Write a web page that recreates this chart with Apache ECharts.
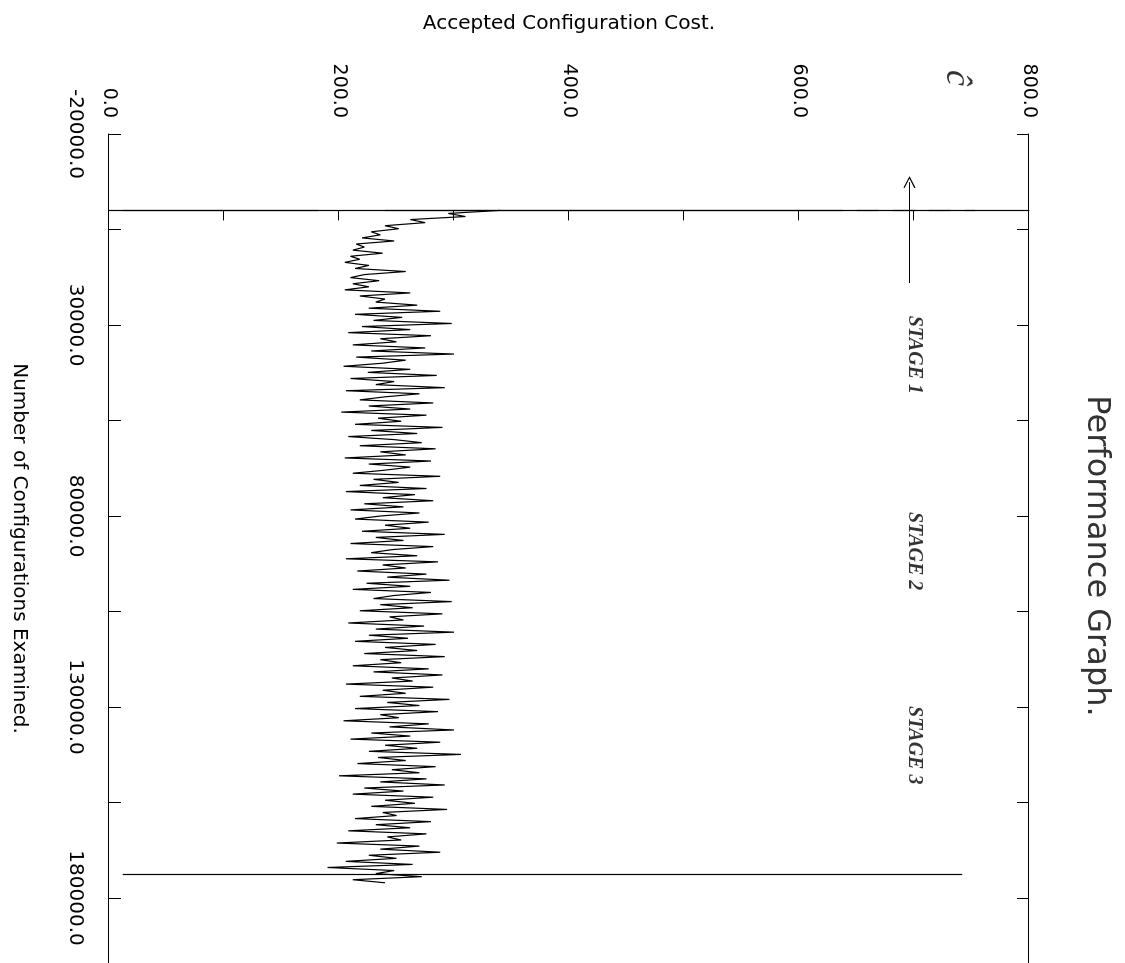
<!DOCTYPE html>
<html>
<head>
<meta charset="utf-8">
<title>Performance Graph.</title>
<script src="https://cdn.jsdelivr.net/npm/echarts@6/dist/echarts.min.js"></script>
<style>
  html, body { margin: 0; padding: 0; background: #fff; overflow: hidden; }
  /* the plot is printed sideways: draw it upright, then turn it a quarter clockwise */
  #chart {
    position: absolute; left: 0; top: 0;
    width: 963px; height: 1125px;
    transform-origin: 0 0;
    transform: translate(1125px, 0) rotate(90deg);
  }
</style>
</head>
<body>
<div id="chart"></div>
<script>
// axes
const configTicks = [-20000, 5000, 30000, 55000, 80000, 105000, 130000, 155000, 180000];
const configLabels = [-20000, 30000, 80000, 130000, 180000];
const costTicks = [0, 100, 200, 300, 400, 500, 600, 700, 800];
const costLabels = [0, 200, 400, 600, 800];

// accepted cost, sampled every 800 configurations from 0
const sampleStart = 0;
const sampleStep = 800;
const costValues = [
  // 0 .. 20000
  340, 295, 310, 262, 275, 240, 252, 228, 236, 220, 248, 215, 222, 212, 238, 210, 218, 205, 226, 214,
  258, 222, 210, 235, 212, 226,
  // 20800 .. 40000
  205, 262, 218, 240, 232, 268, 226, 288, 214, 255, 230, 298, 220, 262, 208, 280, 236, 250, 212, 275,
  228, 300, 215, 258, 238,
  // 40800 .. 80000
  204, 262, 225, 285, 210, 248, 232, 292, 206, 270, 240, 218, 282, 226, 262, 202, 276, 234, 254, 214,
  290, 228, 268, 208, 248, 272, 218, 284, 236, 258, 205, 280, 226, 262, 240, 212, 288, 230, 252, 218,
  276, 206, 266, 238, 282, 222, 256, 210, 270, 236,
  // 80800 .. 120000
  214, 278, 240, 262, 220, 292, 232, 256, 210, 282, 246, 228, 268, 206, 286, 238, 258, 216, 276, 242,
  296, 224, 262, 212, 280, 248, 230, 298, 236, 264, 218, 290, 244, 256, 208, 274, 232, 300, 226, 260,
  214, 284, 240, 268, 222, 292, 236, 254, 212, 278,
  // 120800 .. 160000
  230, 290, 246, 264, 206, 282, 238, 258, 218, 296, 242, 270, 214, 286, 236, 252, 204, 278, 244, 300,
  228, 262, 210, 288, 240, 268, 226, 306, 234, 258, 216, 284, 246, 270, 200, 276, 236, 292, 222, 256,
  212, 282, 240, 266, 228, 294, 238, 250, 214, 280,
  // 160800 .. 176000
  232, 262, 208, 276, 242, 254, 198, 270, 236, 288, 226, 250, 206, 264, 190, 248, 232, 272, 212, 240,
];

// stage boundary lines (configurations) and their cost extent
const markerConfigs = [0, 173700];
const markerLow = 12;
const markerGap = [182, 240];
const markerHigh = [753, 742];
const markerDashFrom = 619;

// stage annotations
const stageNames = ["STAGE 1", "STAGE 2", "STAGE 3"];
const stageConfigs = [37800, 89200, 140000];
const stageCost = 700;
const arrowFrom = [19000, 696];
const arrowTo = [-7400, 696];
const cHatPoint = [-20000, 737];

const lineColor = "#000";
const openArrow = "path://M0,12 L6,0 L12,12 L10.8,12.6 L6,2.6 L1.2,12.6 Z";

const tracePoints = costValues.map((v, i) => [sampleStart + i * sampleStep, v]);

const chartInstance = echarts.init(document.getElementById("chart"));
chartInstance.setOption({
  animation: false,
  backgroundColor: "#fff",
  title: {
    text: "Performance Graph.",
    left: 551,
    textAlign: "center",
    top: 8,
    textStyle: {
      color: "#333",
      fontFamily: "DejaVu Sans",
      fontSize: 32,
      fontWeight: "normal",
    },
  },
  grid: {
    left: 134,
    right: 0,
    top: 96,
    bottom: 109,
  },
  xAxis: [
    {
      type: "value",
      position: "bottom",
      min: -20000,
      max: 197000,
      name: "Number of Configurations Examined.",
      nameLocation: "middle",
      nameGap: 80,
      nameTextStyle: { color: "#000", fontFamily: "DejaVu Sans", fontSize: 20 },
      axisLine: { show: true, lineStyle: { color: lineColor, width: 1.2 } },
      axisTick: { show: true, inside: true, length: 12, customValues: configTicks, lineStyle: { color: lineColor } },
      axisLabel: {
        customValues: configLabels,
        margin: 24,
        color: "#000",
        fontFamily: "DejaVu Sans",
        fontSize: 20,
        formatter: (v) => Number(v).toFixed(1),
      },
      splitLine: { show: false },
    },
    {
      type: "value",
      position: "top",
      min: -20000,
      max: 197000,
      axisLine: { show: true, lineStyle: { color: lineColor, width: 1.2 } },
      axisTick: { show: true, inside: true, length: 12, customValues: configTicks, lineStyle: { color: lineColor } },
      axisLabel: { show: false },
      splitLine: { show: false },
    },
  ],
  yAxis: {
    type: "value",
    min: 0,
    max: 800,
    name: "Accepted Configuration Cost.",
    nameLocation: "middle",
    nameGap: 100,
    nameTextStyle: { color: "#000", fontFamily: "DejaVu Sans", fontSize: 20 },
    axisLine: { show: true, lineStyle: { color: lineColor, width: 1.2 } },
    axisTick: { show: true, inside: true, length: 10, customValues: costTicks, lineStyle: { color: lineColor } },
    axisLabel: {
      customValues: costLabels,
      margin: 16,
      color: "#000",
      fontFamily: "DejaVu Sans",
      fontSize: 19,
      formatter: (v) => Number(v).toFixed(1),
    },
    splitLine: { show: false },
  },
  series: [
    {
      name: "cost",
      type: "line",
      data: tracePoints,
      showSymbol: false,
      symbol: "none",
      lineStyle: { color: lineColor, width: 1.2 },
      markLine: {
        silent: true,
        symbol: "none",
        label: { show: false },
        lineStyle: { color: lineColor, width: 1.2, type: "solid" },
        data: [
          [{ coord: [markerConfigs[0], markerLow] }, { coord: [markerConfigs[0], markerGap[0]] }],
          [{ coord: [markerConfigs[0], markerGap[1]] }, { coord: [markerConfigs[0], markerDashFrom] }],
          [
            { coord: [markerConfigs[0], markerDashFrom], lineStyle: { type: [22, 14] } },
            { coord: [markerConfigs[0], markerHigh[0]] },
          ],
          [{ coord: [markerConfigs[1], markerLow] }, { coord: [markerConfigs[1], markerHigh[1]] }],
          [
            { coord: arrowFrom, symbol: "none" },
            { coord: arrowTo, symbol: openArrow, symbolSize: [12, 12] },
          ],
        ],
      },
    },
    {
      name: "stages",
      type: "scatter",
      symbolSize: 0,
      data: stageNames.map((n, i) => ({ name: n, value: [stageConfigs[i], stageCost] })),
      label: {
        show: true,
        position: "inside",
        formatter: (p) => p.name,
        color: "#000",
        textBorderWidth: 0,
        fontFamily: "Liberation Serif",
        fontStyle: "italic",
        fontWeight: "bold",
        fontSize: 20,
      },
    },
    {
      name: "c-hat",
      type: "scatter",
      clip: false,
      symbolSize: 0,
      data: [{ name: "ĉ", value: cHatPoint }],
      label: {
        show: true,
        position: "inside",
        offset: [-56, 0],
        formatter: (p) => p.name,
        color: "#000",
        textBorderWidth: 0,
        fontFamily: "Liberation Serif",
        fontStyle: "italic",
        fontSize: 36,
      },
    },
  ],
});

window.addEventListener("resize", () => {
  chartInstance?.resize();
});
</script>
</body>
</html>
